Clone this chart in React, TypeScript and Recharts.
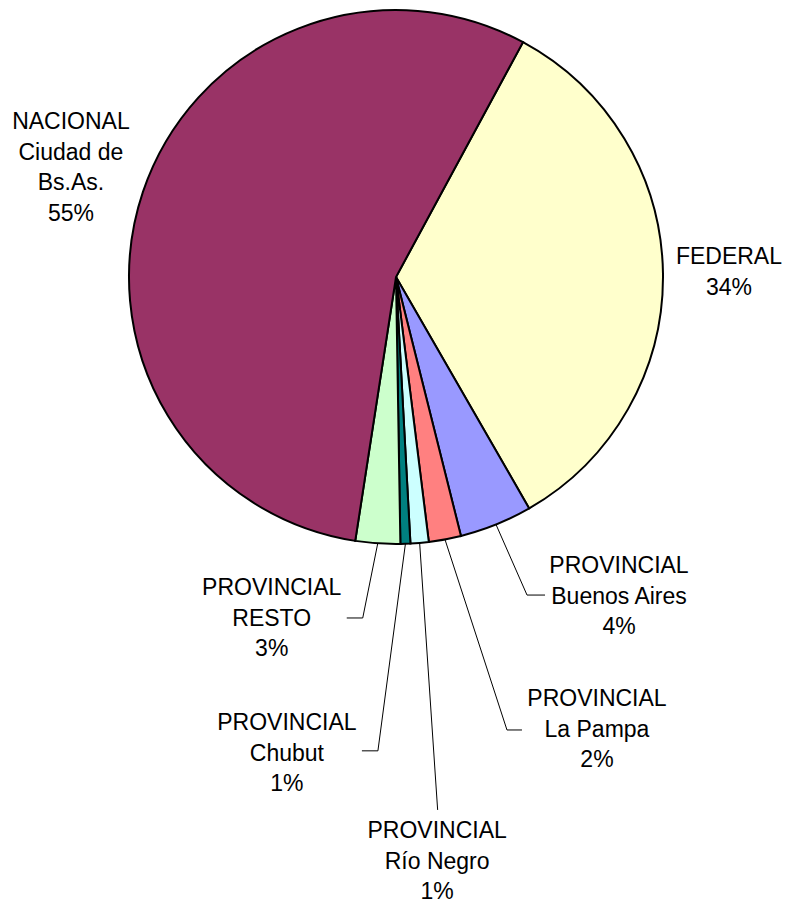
import React from 'react';
import { PieChart, Pie, Cell } from 'recharts';

// ---- data ----
const categories: string[] = [
  'FEDERAL',
  'PROVINCIAL Buenos Aires',
  'PROVINCIAL La Pampa',
  'PROVINCIAL Río Negro',
  'PROVINCIAL Chubut',
  'PROVINCIAL RESTO',
  'NACIONAL Ciudad de Bs.As.',
];
const labelTexts: string[][] = [
  ['FEDERAL'],
  ['PROVINCIAL', 'Buenos Aires'],
  ['PROVINCIAL', 'La Pampa'],
  ['PROVINCIAL', 'Río Negro'],
  ['PROVINCIAL', 'Chubut'],
  ['PROVINCIAL', 'RESTO'],
  ['NACIONAL', 'Ciudad de', 'Bs.As.'],
];
const shares: number[] = [33.8, 4.4, 1.95, 1.1, 0.6, 2.7, 55.45];

// ---- styles ----
const colors: string[] = ['#FFFFCC', '#9999FF', '#FF8080', '#CCFFFF', '#008080', '#CCFFCC', '#993366'];

// label placement relative to the slice's outer edge point (text centre, leader elbow, leader end)
type LabelLayout = { dx: number; dy: number; leader?: [number, number][] };
const labelLayout: LabelLayout[] = [
  { dx: 66, dy: -2 },
  { dx: 123, dy: 71, leader: [[31, 70.5], [49, 70.5]] },
  { dx: 152, dy: 189.5, leader: [[62, 190.5], [77, 190.5]] },
  { dx: 17.5, dy: 318, leader: [[18, 267]] },
  { dx: -118.5, dy: 209, leader: [[-27.5, 207], [-43.5, 207]] },
  { dx: -106, dy: 74.6, leader: [[-15, 74.6], [-31, 74.6]] },
  { dx: -72, dy: -25 },
];

const FONT = '"Liberation Sans", Arial, sans-serif';
const FONT_SIZE = 23;
const LINE_H = 30.5;
const RAD = Math.PI / 180;

const data = categories.map((name, i) => ({ name, value: shares[i] }));

const renderLabel = (props: any) => {
  const { cx, cy, midAngle, outerRadius, percent, index } = props;
  const ex = cx + Math.cos(-midAngle * RAD) * outerRadius;
  const ey = cy + Math.sin(-midAngle * RAD) * outerRadius;
  const lay = labelLayout[index];
  const lines = [...labelTexts[index], `${Math.round(percent * 100)}%`];
  const tx = ex + lay.dx;
  const ty = ey + lay.dy;
  const n = lines.length;
  let path = '';
  if (lay.leader) {
    path = `M${ex},${ey}` + lay.leader.map(([lx, ly]) => ` L${ex + lx},${ey + ly}`).join('');
  }
  return (
    <g key={`lbl-${index}`}>
      {path && <path d={path} stroke="#000" strokeWidth={1} fill="none" />}
      <text
        x={tx}
        y={ty}
        textAnchor="middle"
        fontFamily={FONT}
        fontSize={FONT_SIZE}
        fill="#000"
      >
        {lines.map((ln, i) => (
          <tspan key={i} x={tx} y={ty + (i - (n - 1) / 2) * LINE_H + 8}>
            {ln}
          </tspan>
        ))}
      </text>
    </g>
  );
};

export default function App() {
  return (
    <div style={{ position: 'absolute', left: 0, top: 0, width: 797, height: 902, background: '#fff' }}>
      <PieChart width={797} height={902} margin={{ top: 0, right: 0, bottom: 0, left: 0 }}>
        <Pie
          data={data}
          dataKey="value"
          nameKey="name"
          cx={396}
          cy={277}
          outerRadius={267}
          innerRadius={0}
          startAngle={61.6}
          endAngle={-298.4}
          stroke="#000"
          strokeWidth={2}
          label={renderLabel}
          labelLine={false}
          isAnimationActive={false}
        >
          {data.map((d, i) => (
            <Cell key={d.name} fill={colors[i]} stroke="#000" strokeWidth={2} />
          ))}
        </Pie>
      </PieChart>
    </div>
  );
}
